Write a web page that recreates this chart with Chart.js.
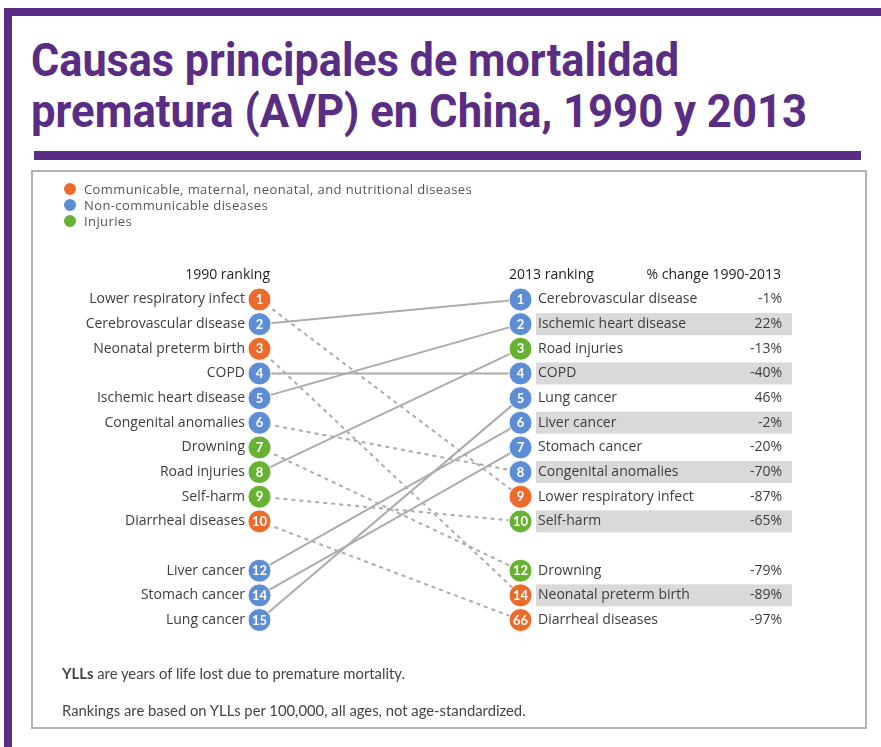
<!DOCTYPE html>
<html lang="es">
<head>
<meta charset="UTF-8">
<title>Causas principales de mortalidad prematura (AVP) en China, 1990 y 2013</title>
<script src="https://cdn.jsdelivr.net/npm/chart.js"></script>
<style>
  html, body { margin: 0; padding: 0; background: #fff; }
  body { width: 881px; height: 747px; position: relative; overflow: hidden; font-family: 'Open Sans', Lato, sans-serif; color: #3d3d3d; }
  .bar { position: absolute; background: #5a2d84; }
  #title { position: absolute; left: 31px; top: 34px; font-family: Roboto, sans-serif; font-weight: 700; font-size: 47px; line-height: 51px; color: #5a2d84; white-space: nowrap; }
  #title div { transform-origin: 0 0; }
  #box { position: absolute; left: 31px; top: 170px; width: 836px; height: 559px; box-sizing: border-box; border: 2.5px solid #b3b3b3; }
  #myChart { position: absolute; left: 0; top: 0; }
  .txt { position: absolute; font-size: 13px; line-height: 16px; white-space: nowrap; }
  .head { color: #1e1e1e; font-size: 14px; }
  .legend { font-size: 13px; letter-spacing: 0.4px; color: #555; }
  .dot { position: absolute; width: 12px; height: 12px; border-radius: 50%; left: 64px; }
  .note { font-family: Lato, sans-serif; font-size: 14.8px; color: #444; }
</style>
</head>
<body>
<div class="bar" style="left:4px; top:8px; width:877px; height:8px;"></div>
<div class="bar" style="left:4px; top:8px; width:8px; height:739px;"></div>
<div id="title"><div data-w="648"><span>Causas principales de mortalidad</span></div><div data-w="776"><span>prematura (AVP) en China, 1990 y 2013</span></div></div>
<div class="bar" style="left:34px; top:151px; width:827px; height:9px;"></div>
<div id="box"></div>
<canvas id="myChart" width="881" height="747"></canvas>

<div class="dot" style="top:183px; background:#ec6a2c;"></div>
<div class="dot" style="top:199px; background:#5d8dd4;"></div>
<div class="dot" style="top:215px; background:#68b233;"></div>
<div class="txt legend" style="left:84px; top:181px;">Communicable, maternal, neonatal, and nutritional diseases</div>
<div class="txt legend" style="left:84px; top:197px;">Non-communicable diseases</div>
<div class="txt legend" style="left:84px; top:213px;">Injuries</div>

<div class="txt head" style="right:611px; top:266px;">1990 ranking</div>
<div class="txt head" style="left:509px; top:266px;">2013 ranking</div>
<div class="txt head" style="right:100px; top:266px;">% change 1990-2013</div>

<div class="txt note" style="left:62px; top:665px;"><b>YLLs</b> are years of life lost due to premature mortality.</div>
<div class="txt note" style="left:62px; top:702px;">Rankings are based on YLLs per 100,000, all ages, not age-standardized.</div>

<script>
  // 1990 ranking (left column)
  const causes1990 = ['Lower respiratory infect', 'Cerebrovascular disease', 'Neonatal preterm birth', 'COPD',
    'Ischemic heart disease', 'Congenital anomalies', 'Drowning', 'Road injuries', 'Self-harm',
    'Diarrheal diseases', 'Liver cancer', 'Stomach cancer', 'Lung cancer'];
  const rank1990 = [1, 2, 3, 4, 5, 6, 7, 8, 9, 10, 12, 14, 15];
  const group1990 = ['C', 'N', 'C', 'N', 'N', 'N', 'I', 'I', 'I', 'C', 'N', 'N', 'N'];

  // 2013 ranking (right column)
  const causes2013 = ['Cerebrovascular disease', 'Ischemic heart disease', 'Road injuries', 'COPD',
    'Lung cancer', 'Liver cancer', 'Stomach cancer', 'Congenital anomalies', 'Lower respiratory infect',
    'Self-harm', 'Drowning', 'Neonatal preterm birth', 'Diarrheal diseases'];
  const rank2013 = [1, 2, 3, 4, 5, 6, 7, 8, 9, 10, 12, 14, 66];
  const group2013 = ['N', 'N', 'I', 'N', 'N', 'N', 'N', 'N', 'C', 'I', 'I', 'C', 'C'];
  const pctChange = ['-1%', '22%', '-13%', '-40%', '46%', '-2%', '-20%', '-70%', '-87%', '-65%', '-79%', '-89%', '-97%'];

  const groupColors = { C: '#ec6a2c', N: '#5d8dd4', I: '#68b233' };
  const lineColor = '#acacac';

  // fila en pantalla: top 10, luego un hueco
  const slotOf = i => (i < 10 ? i : i + 1);
  const slots = causes1990.map((c, i) => slotOf(i));
  const labelAt = (list, v) => {
    const i = slots.indexOf(v);
    return i >= 0 ? list[i] : '';
  };

  // líneas entre ambos rankings
  const lineSets = causes1990.map((cause, i) => {
    const j = causes2013.indexOf(cause);
    const down = rank2013[j] > rank1990[i];
    return {
      type: 'line',
      data: [{ x: 0, y: slotOf(i) }, { x: 1, y: slotOf(j) }],
      borderColor: lineColor,
      borderWidth: 2,
      borderDash: down ? [4, 4] : [],
      pointRadius: 0,
      fill: false,
      clip: false,
      order: 2
    };
  });

  const circleSet = (ranks, groups, xv) => ({
    type: 'scatter',
    data: ranks.map((r, i) => ({ x: xv, y: slotOf(i) })),
    backgroundColor: groups.map(g => groupColors[g]),
    borderColor: '#ffffff',
    borderWidth: 1,
    pointRadius: 11.5,
    clip: false,
    order: 0
  });

  const rowDecor = {
    id: 'rowDecor',
    beforeDraw(chart) {
      const { ctx, scales } = chart;
      const yR = scales.yR, yP = scales.yP;
      ctx.save();
      ctx.fillStyle = '#d9d9d9';
      causes2013.forEach((c, i) => {
        if (i % 2 === 1) {
          const py = yR.getPixelForValue(slotOf(i));
          const x0 = yR.left + 15.5;
          ctx.fillRect(x0, py - 11, yP.right + 10 - x0, 22);
        }
      });
      ctx.restore();
    },
    afterDatasetsDraw(chart) {
      const ctx = chart.ctx;
      ctx.save();
      ctx.fillStyle = '#fff';
      ctx.font = 'bold 13px Lato, sans-serif';
      ctx.textAlign = 'center';
      ctx.textBaseline = 'middle';
      [[0, rank1990], [1, rank2013]].forEach(([k, ranks]) => {
        chart.getDatasetMeta(k).data.forEach((pt, i) => {
          ctx.fillText(String(ranks[i]), pt.x, pt.y + 0.5);
        });
      });
      ctx.restore();
    }
  };

  const tickFont = { family: "'Open Sans', sans-serif", size: 14 };
  const yBase = {
    type: 'linear',
    min: 0,
    max: 13,
    reverse: true,
    grid: { display: false, drawTicks: false },
    border: { display: false },
    afterBuildTicks: s => { s.ticks = slots.map(v => ({ value: v })); }
  };

  document.fonts.ready.then(() => {
    // título condensado: cada línea a su ancho
    document.querySelectorAll('#title div').forEach(d => {
      const w = d.querySelector('span').getBoundingClientRect().width;
      d.style.transform = `scaleX(${Number(d.dataset.w) / w})`;
    });

    new Chart(document.getElementById('myChart'), {
      data: {
        datasets: [circleSet(rank1990, group1990, 0), circleSet(rank2013, group2013, 1)].concat(lineSets)
      },
      options: {
        responsive: false,
        animation: false,
        events: [],
        layout: { padding: { left: 59.5, right: 99, top: 299.5, bottom: 127 } },
        plugins: { legend: { display: false }, tooltip: { enabled: false } },
        scales: {
          x: { type: 'linear', min: 0, max: 1, display: false },
          y: Object.assign({}, yBase, {
            position: 'left',
            afterFit: s => { s.width = 200; },
            ticks: { autoSkip: false, padding: 14.5, color: '#3d3d3d', font: tickFont,
              callback: v => labelAt(causes1990, v) }
          }),
          yR: Object.assign({}, yBase, {
            position: 'right',
            weight: 0,
            afterFit: s => { s.width = 201.5; },
            ticks: { autoSkip: false, padding: 17.5, color: '#3d3d3d', font: tickFont,
              callback: v => labelAt(causes2013, v) }
          }),
          yP: Object.assign({}, yBase, {
            position: 'right',
            weight: 1,
            afterFit: s => { s.width = 60; },
            ticks: { autoSkip: false, padding: 0, crossAlign: 'far', color: '#3d3d3d', font: tickFont,
              callback: v => labelAt(pctChange, v) }
          })
        }
      },
      plugins: [rowDecor]
    });
  });
</script>
</body>
</html>
